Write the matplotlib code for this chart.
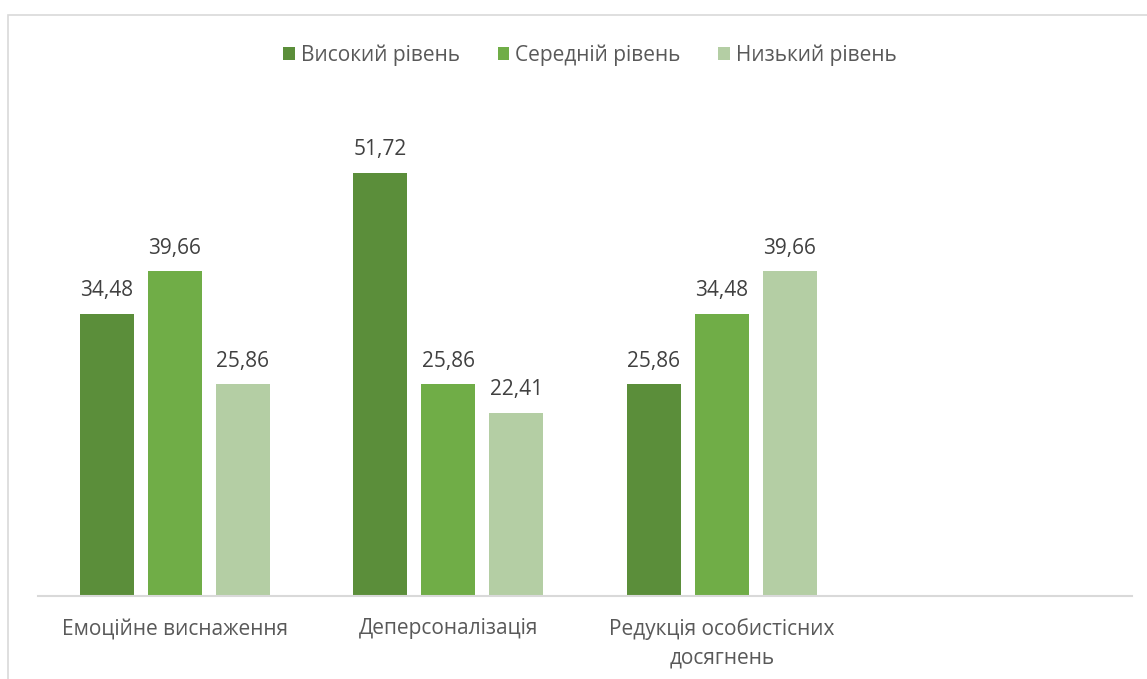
import matplotlib
matplotlib.use("Agg")
import matplotlib.pyplot as plt
import numpy as np
from matplotlib.patches import Rectangle

plt.rcParams['font.family'] = ['Open Sans', 'DejaVu Sans']

categories = ["Емоційне виснаження", "Деперсоналізація", "Редукція особистісних\nдосягнень", ""]
series_names = ["Високий рівень", "Середній рівень", "Низький рівень"]
high = [34.48, 51.72, 25.86]
medium = [39.66, 25.86, 34.48]
low = [25.86, 22.41, 39.66]
colors = ["#5B8E3A", "#70AD47", "#B4CEA4"]

W, H = 1147, 679
fig = plt.figure(figsize=(W / 100, H / 100), dpi=100)

# chart frame (partially visible)
fig.patches.append(Rectangle((8 / W, -0.05), 1.2, 1 - 15 / H + 0.05, transform=fig.transFigure,
                             fill=False, edgecolor="#D9D9D9", linewidth=1.2))

ax = fig.add_axes([38 / W, 83 / H, (1132 - 38) / W, (596 - 105) / H])

n_slots = len(categories)
x = np.arange(n_slots)
bw = 54 / 273.5
step = 68 / 273.5
series = [high, medium, low]
for i, (vals, name, c) in enumerate(zip(series, series_names, colors)):
    pos = x[:len(vals)] + (i - 1) * step
    bars = ax.bar(pos, vals, width=bw, color=c, label=name, zorder=2)
    labels = [f"{v:.2f}".replace(".", ",") for v in vals]
    ax.bar_label(bars, labels=labels, padding=9, fontsize=15, color="#404040")

ax.set_xlim(-0.5, n_slots - 0.5)
ax.set_ylim(0, 60)
ax.set_yticks([])
ax.set_xticks(x)
ax.set_xticklabels(categories, fontsize=15, color="#595959", linespacing=1.45)
ax.tick_params(axis="x", length=0, pad=16)
for s in ["top", "right", "left"]:
    ax.spines[s].set_visible(False)
ax.spines["bottom"].set_color("#D9D9D9")
ax.spines["bottom"].set_linewidth(1.5)

fig.legend(loc="center", bbox_to_anchor=(590 / W, 1 - 55 / H), ncol=3, frameon=False,
           fontsize=15, labelcolor="#595959", handlelength=0.55, handleheight=0.55,
           handletextpad=0.3, columnspacing=1.8)

fig.savefig("out.png", dpi=100)
